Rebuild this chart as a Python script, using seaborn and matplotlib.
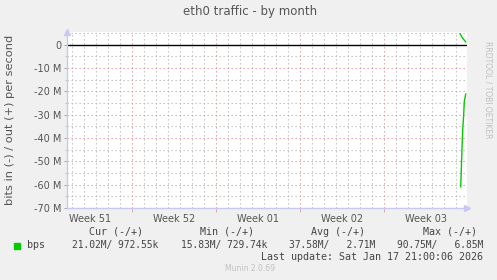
import matplotlib
matplotlib.use("Agg")
import matplotlib.pyplot as plt
import seaborn as sns
import pandas as pd
import numpy as np
from matplotlib.ticker import FixedLocator, FuncFormatter, FixedFormatter

# ---- data (x = days since Monday of Week 51) ----
in_days = [34.41, 34.52, 34.58, 34.64, 34.71, 34.83]
in_vals = [-61e6, -44e6, -36e6, -31.5e6, -24.3e6, -21e6]
out_days = [34.35, 34.55, 34.83]
out_vals = [4.8e6, 3.0e6, 1.2e6]
week_labels = ["Week 51", "Week 52", "Week 01", "Week 02", "Week 03"]
week_label_pos = [3.5, 10.5, 17.5, 24.5, 31.5]
week_starts = [7, 14, 21, 28]
y_ticks = [0, -10e6, -20e6, -30e6, -40e6, -50e6, -60e6, -70e6]

legend_cols = ["Cur (-/+)", "Min (-/+)", "Avg (-/+)", "Max (-/+)"]
legend_vals = ["21.02M/ 972.55k", "15.83M/ 729.74k", "37.58M/   2.71M", "90.75M/   6.85M"]
series_name = "bps"
last_update = "Last update: Sat Jan 17 21:00:06 2026"

sns.set_theme(style="white")
plt.rcParams['font.family'] = ['DejaVu Sans']

W, H = 497, 280
fig = plt.figure(figsize=(W / 100, H / 100), dpi=100, facecolor="#f0f0f0")
L, R, T, B = 67, 467, 32, 208
ax = fig.add_axes([L / W, (H - B) / H, (R - L) / W, (B - T) / H])
ax.set_facecolor("white")

xmin = 1.6
xmax = xmin + 400 / 12.0
ax.set_xlim(xmin, xmax)
ax.set_ylim(-70e6, 5.5e6)

dot = (0, (1.2, 2.4))
grey = "#bdbdbd"
red = "#e49a9a"
# grid
for d in np.arange(2, 35, 1):
    if d in week_starts:
        continue
    ax.axvline(d, color=grey, lw=0.8, ls=dot, zorder=0)
for v in np.arange(-65e6, 6e6, 10e6):
    ax.axhline(v, color=grey, lw=0.8, ls=dot, zorder=0)
for d in week_starts:
    ax.axvline(d, color=red, lw=0.8, ls=dot, zorder=0)
for v in y_ticks[1:]:
    ax.axhline(v, color=red, lw=0.8, ls=dot, zorder=0)

ax.axhline(0, color="black", lw=1.0, zorder=2)

df_in = pd.DataFrame({"day": in_days, "val": in_vals})
df_out = pd.DataFrame({"day": out_days, "val": out_vals})
sns.lineplot(data=df_in, x="day", y="val", color="#00cc00", lw=1.0, ax=ax, zorder=3)
sns.lineplot(data=df_out, x="day", y="val", color="#00cc00", lw=1.0, ax=ax, zorder=3)
ax.set_xlabel("")
ax.set_ylabel("")
fig.text(10 / W, 1 - 120 / H, "bits in (-) / out (+) per second", rotation=90,
         ha="center", va="center", fontsize=8.2, color="#555555")

for s in ["top", "right"]:
    ax.spines[s].set_visible(False)
for s in ["left", "bottom"]:
    ax.spines[s].set_color("#c8c8f0")
    ax.spines[s].set_linewidth(1.0)

ax.yaxis.set_major_locator(FixedLocator(y_ticks))
ax.yaxis.set_major_formatter(FuncFormatter(lambda v, p: "0" if v == 0 else "%d M" % round(v / 1e6)))
ax.yaxis.set_minor_locator(FixedLocator(list(np.arange(-65e6, 6e6, 10e6))))
ax.xaxis.set_major_locator(FixedLocator(week_starts))
ax.xaxis.set_major_formatter(FuncFormatter(lambda v, p: ""))
ax.xaxis.set_minor_locator(FixedLocator(week_label_pos))
ax.xaxis.set_minor_formatter(FixedFormatter(week_labels))
ax.tick_params(axis="y", which="major", length=2, width=0.6, color="#999999",
               labelsize=7, labelcolor="#555555", pad=2, left=True)
ax.tick_params(axis="y", which="minor", length=1.5, width=0.6, color="#bbbbbb", left=True)
ax.tick_params(axis="x", which="major", length=3, width=0.6, color=red, bottom=True)
ax.tick_params(axis="x", which="minor", length=0, labelsize=7, labelcolor="#555555", pad=4)

# axis arrows
ax.plot([0], [1.0], marker="^", color="#c8c8f0", ms=5, transform=ax.transAxes, clip_on=False)
ax.plot([1.0], [0], marker=">", color="#c8c8f0", ms=5, transform=ax.transAxes, clip_on=False)

# texts
fig.text(250 / W, 1 - 12 / H, "eth0 traffic - by month", ha="center", va="center",
         fontsize=8.5, color="#555555")
fig.text(488 / W, 1 - 90 / H, "RRDTOOL / TOBI OETIKER", ha="center", va="center",
         rotation=270, fontsize=5.5, color="#c0c0c0")

mono = "DejaVu Sans Mono"
fs = 7.2
col_centers = [116, 227, 338, 450]
val_right = [158, 267, 375, 483]
for c, lab in zip(col_centers, legend_cols):
    fig.text(c / W, 1 - 232 / H, lab, ha="center", va="center", family=mono, fontsize=fs, color="#444444")
for r, v in zip(val_right, legend_vals):
    fig.text(r / W, 1 - 245 / H, v, ha="right", va="center", family=mono, fontsize=fs * 0.96, color="#444444")
fig.patches.append(matplotlib.patches.Rectangle((14 / W, 1 - 248.5 / H), 6 / W, 6 / H,
                                                 transform=fig.transFigure, color="#00cc00"))
fig.text(27 / W, 1 - 245 / H, series_name, ha="left", va="center", family=mono, fontsize=fs, color="#444444")
fig.text(483 / W, 1 - 257 / H, last_update, ha="right", va="center", family=mono, fontsize=fs, color="#444444")
fig.text(250 / W, 1 - 268.5 / H, "Munin 2.0.69", ha="center", va="center", fontsize=5.5, color="#c0c0c0")

fig.savefig("out.png", dpi=100, facecolor=fig.get_facecolor())
